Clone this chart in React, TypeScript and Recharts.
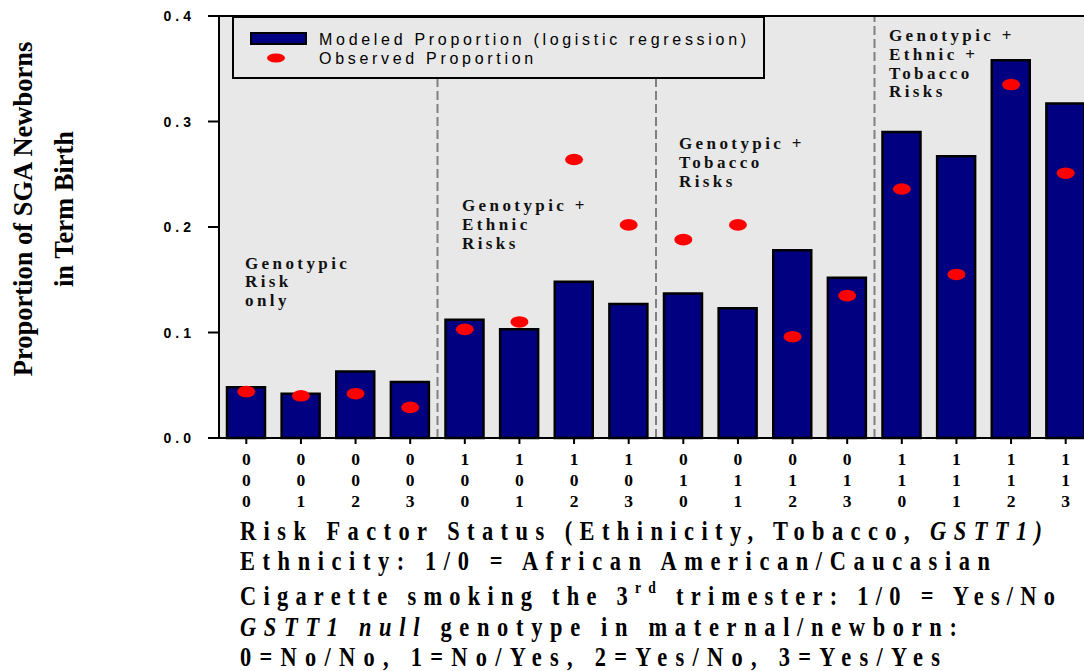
import {
  Bar,
  CartesianGrid,
  ComposedChart,
  Legend,
  ReferenceLine,
  Scatter,
  XAxis,
  YAxis,
} from "recharts";

// risk factor status per bar: ethnicity, tobacco, GSTT1 genotype
const ethnicity = [0, 0, 0, 0, 1, 1, 1, 1, 0, 0, 0, 0, 1, 1, 1, 1];
const tobacco = [0, 0, 0, 0, 0, 0, 0, 0, 1, 1, 1, 1, 1, 1, 1, 1];
const gstt1 = [0, 1, 2, 3, 0, 1, 2, 3, 0, 1, 2, 3, 0, 1, 2, 3];

const modeled = [
  0.048, 0.042, 0.063, 0.053, 0.112, 0.103, 0.148, 0.127, 0.137, 0.123, 0.178,
  0.152, 0.29, 0.267, 0.358, 0.317,
];
const observed = [
  0.044, 0.04, 0.042, 0.029, 0.103, 0.11, 0.264, 0.202, 0.188, 0.202, 0.096,
  0.135, 0.236, 0.155, 0.335, 0.251,
];

const yTicks = [0, 0.1, 0.2, 0.3, 0.4];
const groupBreaks = [3.5, 7.5, 11.5];

const groupNotes = [
  { x: 245, y: 268.5, lines: ["Genotypic", "Risk", "only"] },
  { x: 462, y: 211, lines: ["Genotypic +", "Ethnic", "Risks"] },
  { x: 679, y: 149, lines: ["Genotypic +", "Tobacco", "Risks"] },
  { x: 889, y: 41, lines: ["Genotypic +", "Ethnic +", "Tobacco", "Risks"] },
];

const chartData = modeled.map((m, i) => ({
  idx: i,
  modeled: m,
  observed: observed[i],
}));

const serif = '"Liberation Serif", "Times New Roman", serif';
const sans = '"Liberation Sans", Arial, sans-serif';

// horizontal squeeze of the caption font
const squeeze = 0.8;

function StatusTick({ x, y, payload }: any) {
  const i = payload.value;
  const digits = [ethnicity[i], tobacco[i], gstt1[i]];
  return (
    <text
      x={x}
      y={y}
      textAnchor="middle"
      fontFamily={serif}
      fontWeight={700}
      fontSize={17.5}
      fill="#000"
    >
      {digits.map((d, k) => (
        <tspan key={k} x={x} dy={k === 0 ? 18.6 : 21}>
          {d}
        </tspan>
      ))}
    </text>
  );
}

function ValueTick({ x, y, payload }: any) {
  return (
    <text
      x={x}
      y={y}
      dy="0.36em"
      textAnchor="end"
      fontFamily={sans}
      fontWeight={700}
      fontSize={14}
      fill="#000"
      style={{ letterSpacing: 4 }}
    >
      {payload.value.toFixed(1)}
    </text>
  );
}

function Ellipse(props: any) {
  const { cx, cy } = props;
  return <ellipse cx={cx} cy={cy} rx={9} ry={5.8} fill="#ff0000" />;
}

function LegendBox() {
  const txt = { fontFamily: sans, fontSize: 16, letterSpacing: 3.7, fill: "#000" };
  return (
    <svg width={529} height={59} style={{ display: "block" }}>
      <rect x={17} y={15} width={55} height={11} fill="#000080" stroke="#000" strokeWidth={2} />
      <text x={85} y={27} style={txt}>
        Modeled Proportion (logistic regression)
      </text>
      <ellipse cx={42} cy={40} rx={9} ry={4.5} fill="#ff0000" />
      <text x={85} y={46} style={txt}>
        Observed Proportion
      </text>
    </svg>
  );
}

export default function App() {
  const bottomText = {
    fontFamily: serif,
    fontWeight: 700,
    fontSize: 28,
    fill: "#000",
  };
  const fit = (w: number) => ({ textLength: w / squeeze, lengthAdjust: "spacing" });
  return (
    <div
      style={{
        position: "fixed",
        left: 0,
        top: 0,
        width: 1084,
        height: 671,
        overflow: "hidden",
        background: "#fff",
      }}
    >
      <ComposedChart
        width={1093}
        height={518}
        data={chartData}
        margin={{ top: 16, right: 0, bottom: 0, left: 0 }}
      >
        <CartesianGrid horizontal={false} vertical={false} fill="#e8e8e8" fillOpacity={1} />
        <XAxis
          dataKey="idx"
          type="number"
          domain={[-0.5, 15.5]}
          ticks={chartData.map((d) => d.idx)}
          interval={0}
          height={80}
          tickSize={6}
          tick={<StatusTick />}
          axisLine={{ stroke: "#000", strokeWidth: 2 }}
          tickLine={{ stroke: "#000", strokeWidth: 2 }}
        />
        <YAxis
          domain={[0, 0.4]}
          ticks={yTicks}
          width={219}
          tickSize={11}
          tickMargin={13}
          tick={<ValueTick />}
          axisLine={{ stroke: "#000", strokeWidth: 2 }}
          tickLine={{ stroke: "#000", strokeWidth: 2 }}
        />
        {groupBreaks.map((b) => (
          <ReferenceLine
            key={b}
            x={b}
            stroke="#808080"
            strokeWidth={2}
            strokeDasharray="9 4"
          />
        ))}
        <ReferenceLine y={0.4} stroke="#000" strokeWidth={2} />
        <Bar
          dataKey="modeled"
          barSize={38}
          fill="#000080"
          stroke="#000"
          strokeWidth={2.5}
          isAnimationActive={false}
        />
        <Scatter dataKey="observed" shape={<Ellipse />} isAnimationActive={false} />
        <Legend
          layout="vertical"
          align="center"
          verticalAlign="middle"
          wrapperStyle={{
            left: 232,
            top: 16,
            width: 533,
            height: 63,
            border: "2px solid #000",
            background: "#e8e8e8",
            boxSizing: "border-box",
          }}
          content={() => <LegendBox />}
        />
      </ComposedChart>

      <svg
        width={1084}
        height={671}
        style={{ position: "absolute", left: 0, top: 0, pointerEvents: "none" }}
      >
        <text
          transform="translate(32,209) rotate(-90)"
          textAnchor="middle"
          fontFamily={serif}
          fontWeight={700}
          fontSize={26.5}
          fill="#000"
        >
          Proportion of SGA Newborns
        </text>
        <text
          transform="translate(73,209) rotate(-90)"
          textAnchor="middle"
          fontFamily={serif}
          fontWeight={700}
          fontSize={26.5}
          fill="#000"
        >
          in Term Birth
        </text>

        {groupNotes.map((g) => (
          <text
            key={g.x}
            fontFamily={serif}
            fontWeight={700}
            fontSize={17}
            fill="#111"
            style={{ letterSpacing: 3.4 }}
          >
            {g.lines.map((l, k) => (
              <tspan key={k} x={g.x} y={g.y + k * 18.8}>
                {l}
              </tspan>
            ))}
          </text>
        ))}

        <g transform={`translate(240,0) scale(${squeeze},1)`}>
          <text x={0} y={540} style={bottomText} {...fit(802)}>
            Risk Factor Status (Ethinicity, Tobacco,{" "}
            <tspan fontStyle="italic">GSTT1)</tspan>
          </text>
          <text x={0} y={570} style={bottomText} {...fit(750)}>
            Ethnicity: 1/0 = African American/Caucasian
          </text>
          <text x={0} y={605} style={bottomText} {...fit(815)}>
            Cigarette smoking the 3
            <tspan fontSize={17} dy={-12}>
              rd
            </tspan>
            <tspan dy={12}> trimester: 1/0 = Yes/No</tspan>
          </text>
          <text x={0} y={636} style={bottomText} {...fit(717)}>
            <tspan fontStyle="italic">GSTT1 null</tspan> genotype in maternal/newborn:
          </text>
          <text x={0} y={666} style={bottomText} {...fit(700)}>
            0=No/No, 1=No/Yes, 2=Yes/No, 3=Yes/Yes
          </text>
        </g>
      </svg>
    </div>
  );
}
